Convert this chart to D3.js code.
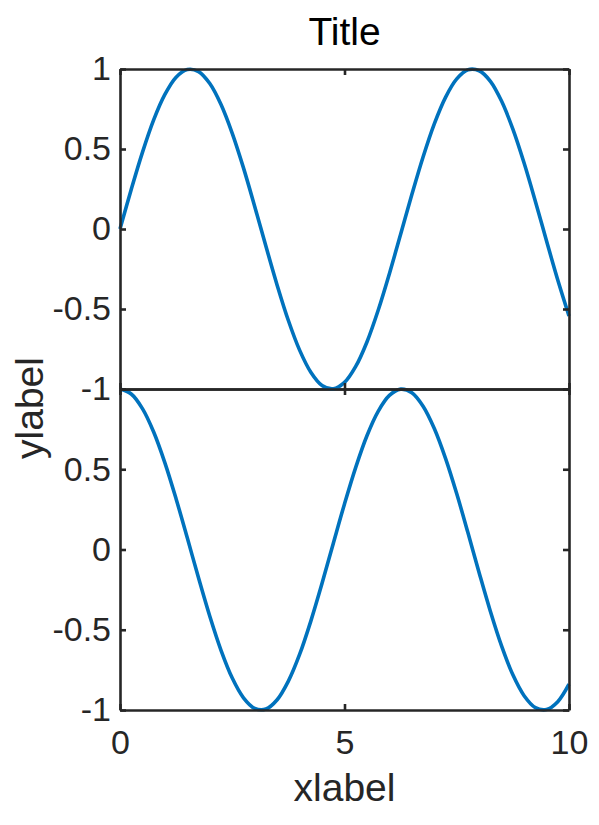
<!DOCTYPE html>
<html><head><meta charset="utf-8">
<script src="https://cdn.jsdelivr.net/npm/d3@7"></script>
<style>body{margin:0;background:#fff}</style>
</head><body><div id="chart"></div>
<script>
const xValues = [0,0.25,0.5,0.75,1,1.25,1.5,1.75,2,2.25,2.5,2.75,3,3.25,3.5,3.75,4,4.25,4.5,4.75,5,5.25,5.5,5.75,6,6.25,6.5,6.75,7,7.25,7.5,7.75,8,8.25,8.5,8.75,9,9.25,9.5,9.75,10];
const topSeries = [0,0.247,0.479,0.682,0.841,0.949,0.997,0.984,0.909,0.778,0.598,0.382,0.141,-0.108,-0.351,-0.572,-0.757,-0.895,-0.978,-0.999,-0.959,-0.859,-0.706,-0.508,-0.279,-0.033,0.215,0.450,0.657,0.823,0.938,0.995,0.989,0.923,0.798,0.624,0.412,0.174,-0.075,-0.319,-0.544];
const bottomSeries = [1,0.969,0.878,0.732,0.540,0.315,0.071,-0.178,-0.416,-0.628,-0.801,-0.924,-0.990,-0.994,-0.936,-0.820,-0.654,-0.446,-0.211,0.038,0.284,0.512,0.709,0.861,0.960,0.999,0.977,0.893,0.754,0.568,0.347,0.104,-0.146,-0.386,-0.602,-0.781,-0.911,-0.985,-0.997,-0.948,-0.839];
const xTicks = [0,5,10];
const yTicks = [-1,-0.5,0,0.5,1];
const yTickLabels = ["-1","-0.5","0","0.5","1"];
const titleText = "Title", xLabelText = "xlabel", yLabelText = "ylabel";

const W = 599, H = 825;
const left = 120, right = 569, top1 = 69, mid = 389, bottom2 = 710;
const axisColor = "#262626", lineColor = "#0072BD";
const font = "'Liberation Sans', Arial, Helvetica, sans-serif";
const fs = 34, lfs = 39;

const svg = d3.select("#chart").append("svg").attr("width", W).attr("height", H);
const x = d3.scaleLinear().domain([0, 10]).range([left, right]);

function panel(series, y0, y1, showXLabels, hideTopLabel) {
  const y = d3.scaleLinear().domain([-1, 1]).range([y1, y0]);
  const g = svg.append("g");
  const data = xValues.map((v, i) => [v, series[i]]);
  g.append("path").datum(data)
    .attr("d", d3.line().x(d => x(d[0])).y(d => y(d[1])).curve(d3.curveCatmullRom.alpha(0.5)))
    .attr("fill", "none").attr("stroke", lineColor).attr("stroke-width", 3.6);
  const la = g.append("g").attr("transform", `translate(${left},0)`)
    .call(d3.axisLeft(y).tickValues(yTicks).tickSizeInner(-6).tickSizeOuter(0).tickPadding(9)
      .tickFormat((d, i) => (hideTopLabel && d === 1) ? "" : yTickLabels[i]));
  const ra = g.append("g").attr("transform", `translate(${right},0)`)
    .call(d3.axisRight(y).tickValues(yTicks).tickSizeInner(-6).tickSizeOuter(0).tickFormat(""));
  const ba = g.append("g").attr("transform", `translate(0,${y1})`)
    .call(d3.axisBottom(x).tickValues(xTicks).tickSizeInner(-6).tickSizeOuter(0).tickPadding(20)
      .tickFormat(showXLabels ? d3.format("d") : ""));
  const ta = g.append("g").attr("transform", `translate(0,${y0})`)
    .call(d3.axisTop(x).tickValues(xTicks).tickSizeInner(-6).tickSizeOuter(0).tickFormat(""));
  [la, ra, ba, ta].forEach(a => {
    a.select(".domain").attr("stroke", axisColor).attr("stroke-width", 2.6);
    a.selectAll(".tick line").attr("stroke", axisColor).attr("stroke-width", 2.6);
    a.selectAll("text").attr("fill", axisColor).style("font-family", font).style("font-size", fs + "px");
  });
}

panel(bottomSeries, mid, bottom2, true, true);
panel(topSeries, top1, mid, false, false);

svg.append("text").attr("x", (left + right) / 2).attr("y", 45).attr("text-anchor", "middle")
  .style("font-family", font).style("font-size", lfs + "px").attr("fill", "#000").text(titleText);
svg.append("text").attr("x", (left + right) / 2).attr("y", 801).attr("text-anchor", "middle")
  .style("font-family", font).style("font-size", lfs + "px").attr("fill", axisColor).text(xLabelText);
svg.append("text").attr("transform", `translate(43,408) rotate(-90)`).attr("text-anchor", "middle")
  .style("font-family", font).style("font-size", lfs + "px").attr("fill", axisColor).text(yLabelText);
</script></body></html>
